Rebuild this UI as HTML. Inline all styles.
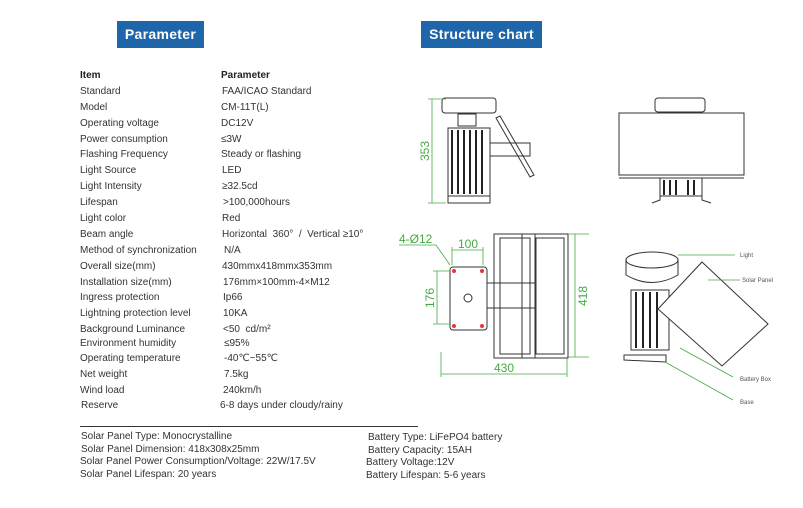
<!DOCTYPE html>
<html><head><meta charset="utf-8"><style>
body{margin:0;width:803px;height:508px;background:#fff;position:relative;overflow:hidden;font-family:"Liberation Sans","DejaVu Sans",sans-serif;}
.h{position:absolute;top:21px;height:27px;background:#1f65a9;color:#fff;font-weight:bold;font-size:14px;line-height:27px;text-align:center;letter-spacing:0.3px}
.t{position:absolute;font-size:10px;color:#333;white-space:nowrap;line-height:12px}
.b{font-weight:bold;color:#222}
</style></head><body>
<div class="h" style="left:117px;width:87px">Parameter</div>
<div class="h" style="left:421px;width:121px">Structure chart</div>

<div class="t b" style="left:80px;top:70px">Item</div><div class="t b" style="left:221px;top:70px">Parameter</div>
<div class="t" style="left:80px;top:86px">Standard</div><div class="t" style="left:222px;top:86px">FAA/ICAO Standard</div>
<div class="t" style="left:80px;top:102px">Model</div><div class="t" style="left:221px;top:102px">CM-11T(L)</div>
<div class="t" style="left:80px;top:118px">Operating voltage</div><div class="t" style="left:221px;top:118px">DC12V</div>
<div class="t" style="left:80px;top:134px">Power consumption</div><div class="t" style="left:221px;top:134px">≤3W</div>
<div class="t" style="left:80px;top:149px">Flashing Frequency</div><div class="t" style="left:221px;top:149px">Steady or flashing</div>
<div class="t" style="left:80px;top:165px">Light Source</div><div class="t" style="left:222px;top:165px">LED</div>
<div class="t" style="left:80px;top:181px">Light Intensity</div><div class="t" style="left:222px;top:181px">≥32.5cd</div>
<div class="t" style="left:80px;top:197px">Lifespan</div><div class="t" style="left:223px;top:197px">&gt;100,000hours</div>
<div class="t" style="left:80px;top:213px">Light color</div><div class="t" style="left:222px;top:213px">Red</div>
<div class="t" style="left:80px;top:229px">Beam angle</div><div class="t" style="left:222px;top:229px">Horizontal &nbsp;360° &nbsp;/ &nbsp;Vertical ≥10°</div>
<div class="t" style="left:80px;top:245px">Method of synchronization</div><div class="t" style="left:224px;top:245px">N/A</div>
<div class="t" style="left:80px;top:261px">Overall size(mm)</div><div class="t" style="left:222px;top:261px">430mmx418mmx353mm</div>
<div class="t" style="left:80px;top:277px">Installation size(mm)</div><div class="t" style="left:223px;top:277px">176mm×100mm-4×M12</div>
<div class="t" style="left:80px;top:292px">Ingress protection</div><div class="t" style="left:223px;top:292px">Ip66</div>
<div class="t" style="left:80px;top:308px">Lightning protection level</div><div class="t" style="left:223px;top:308px">10KA</div>
<div class="t" style="left:80px;top:324px">Background Luminance</div><div class="t" style="left:223px;top:324px">&lt;50 &nbsp;cd/m²</div>
<div class="t" style="left:80px;top:338px">Environment humidity</div><div class="t" style="left:224px;top:338px">≤95%</div>
<div class="t" style="left:80px;top:353px">Operating temperature</div><div class="t" style="left:224px;top:353px">-40℃~55℃</div>
<div class="t" style="left:80px;top:369px">Net weight</div><div class="t" style="left:224px;top:369px">7.5kg</div>
<div class="t" style="left:80px;top:385px">Wind load</div><div class="t" style="left:223px;top:385px">240km/h</div>
<div class="t" style="left:81px;top:400px">Reserve</div><div class="t" style="left:220px;top:400px">6-8 days under cloudy/rainy</div>

<div style="position:absolute;left:80px;top:426px;width:338px;height:1px;background:#333"></div>
<div class="t" style="left:81px;top:431px">Solar Panel Type: Monocrystalline</div>
<div class="t" style="left:81px;top:444px">Solar Panel Dimension: 418x308x25mm</div>
<div class="t" style="left:80px;top:456px">Solar Panel Power Consumption/Voltage: 22W/17.5V</div>
<div class="t" style="left:80px;top:469px">Solar Panel Lifespan: 20 years</div>
<div class="t" style="left:368px;top:432px">Battery Type: LiFePO4 battery</div>
<div class="t" style="left:368px;top:445px">Battery Capacity: 15AH</div>
<div class="t" style="left:366px;top:457px">Battery Voltage:12V</div>
<div class="t" style="left:366px;top:470px">Battery Lifespan: 5-6 years</div>

<svg style="position:absolute;left:0;top:0" width="803" height="508" font-family="Liberation Sans,sans-serif">
<g fill="none" stroke="#333" stroke-width="1">
<!-- side view -->
<rect x="442" y="98" width="54" height="15" rx="3"/>
<rect x="458" y="114" width="18" height="12"/>
<rect x="448" y="128" width="42" height="68"/>
<g stroke="#222" stroke-width="2"><line x1="452" y1="130" x2="452" y2="194"/><line x1="458" y1="130" x2="458" y2="194"/><line x1="464" y1="130" x2="464" y2="194"/><line x1="470" y1="130" x2="470" y2="194"/><line x1="476" y1="130" x2="476" y2="194"/><line x1="482" y1="130" x2="482" y2="194"/></g>
<rect x="448" y="196" width="42" height="7"/>
<rect x="490" y="143" width="40" height="13"/>
<polygon points="496,118 500,116 534,175 530,177"/>
<!-- front view -->
<rect x="655" y="98" width="50" height="14" rx="3"/>
<rect x="619" y="113" width="125" height="62"/>
<line x1="619" y1="178" x2="744" y2="178"/>
<rect x="660" y="178" width="42" height="18"/>
<g stroke="#222" stroke-width="2"><line x1="664" y1="180" x2="664" y2="195"/><line x1="670" y1="180" x2="670" y2="195"/><line x1="676" y1="180" x2="676" y2="195"/><line x1="688" y1="180" x2="688" y2="195"/><line x1="694" y1="180" x2="694" y2="195"/></g>
<path d="M652 203 L660 200 L660 196 M702 196 L702 200 L711 203"/>
<!-- top view -->
<rect x="494" y="234" width="74" height="124"/>
<rect x="500" y="238" width="30" height="116"/><rect x="536" y="238" width="28" height="116"/>
<rect x="522" y="234" width="13" height="124"/>
<rect x="450" y="267" width="37" height="63" rx="3"/>
<rect x="487" y="283" width="48" height="25"/>
<circle cx="468" cy="298" r="4"/>
</g>
<g fill="#e33"><circle cx="454" cy="271" r="2"/><circle cx="482" cy="271" r="2"/><circle cx="454" cy="326" r="2"/><circle cx="482" cy="326" r="2"/></g>
<!-- iso view -->
<g fill="none" stroke="#333">
<ellipse cx="652" cy="260" rx="26" ry="8"/><path d="M626 260 L626 275 Q652 290 678 275 L678 260"/>
<rect x="631" y="290" width="38" height="60"/>
<g stroke="#222" stroke-width="2"><line x1="636" y1="292" x2="636" y2="348"/><line x1="643" y1="292" x2="643" y2="348"/><line x1="650" y1="292" x2="650" y2="348"/><line x1="657" y1="292" x2="657" y2="348"/></g>
<polygon points="702,262 768,324 722,366 658,309" fill="#fff"/>
<path d="M624 355 L666 355 L666 362 L624 360 Z"/>
</g>
<g stroke="#4a4" fill="none" stroke-width="0.8">
<line x1="678" y1="255" x2="735" y2="255"/><line x1="708" y1="280" x2="740" y2="280"/>
<line x1="680" y1="348" x2="733" y2="377"/><line x1="665" y1="362" x2="733" y2="400"/>
<!-- dims -->
<line x1="432" y1="99" x2="432" y2="203"/><line x1="428" y1="99" x2="446" y2="99"/><line x1="428" y1="203" x2="446" y2="203"/>
<line x1="437" y1="271" x2="437" y2="324"/><line x1="433" y1="271" x2="450" y2="271"/><line x1="433" y1="324" x2="450" y2="324"/>
<line x1="575" y1="234" x2="575" y2="357"/><line x1="568" y1="234" x2="589" y2="234"/><line x1="568" y1="357" x2="589" y2="357"/>
<line x1="441" y1="374" x2="567" y2="374"/><line x1="441" y1="352" x2="441" y2="377"/><line x1="567" y1="357" x2="567" y2="377"/>
<line x1="452" y1="250" x2="483" y2="250"/><line x1="452" y1="247" x2="452" y2="265"/><line x1="483" y1="247" x2="483" y2="265"/>
<line x1="399" y1="245" x2="436" y2="245"/><line x1="436" y1="245" x2="450" y2="265"/>
</g>
<g fill="#4a4" font-size="12">
<text x="429" y="151" transform="rotate(-90 429 151)" text-anchor="middle">353</text>
<text x="434" y="298" transform="rotate(-90 434 298)" text-anchor="middle">176</text>
<text x="587" y="296" transform="rotate(-90 587 296)" text-anchor="middle">418</text>
<text x="504" y="372" text-anchor="middle">430</text>
<text x="468" y="248" text-anchor="middle">100</text>
<text x="399" y="243">4-Ø12</text>
<g font-size="6" fill="#555"><text x="740" y="257">Light</text><text x="742" y="282">Solar Panel</text><text x="740" y="381">Battery Box</text><text x="740" y="404">Base</text></g>
</g>
</svg>
</body></html>
